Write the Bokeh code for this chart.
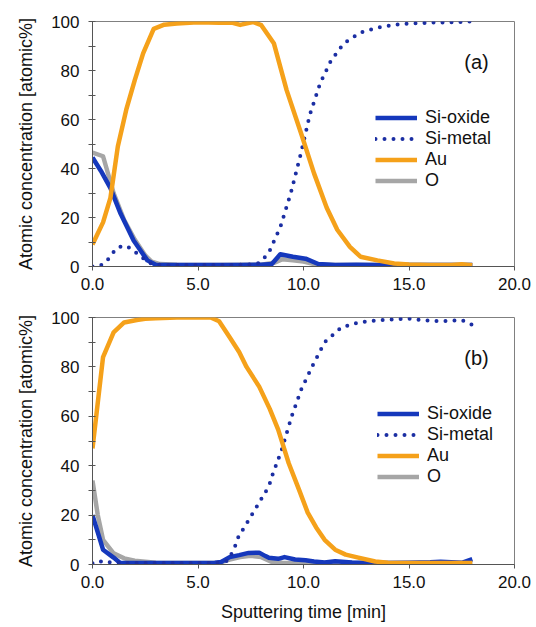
from bokeh.plotting import figure
from bokeh.layouts import column
from bokeh.models import Range1d, FixedTicker, Legend, LegendItem, Label
from bokeh.embed import file_html
from bokeh.resources import INLINE

# ---------------- data: panel (a) ----------------
a_au_t = [0, 0.5, 0.85, 1.2, 1.6, 2.0, 2.4, 2.9, 3.4, 4.0, 5.0, 6.0, 6.6, 7.0, 7.6, 8.0, 8.6, 9.2, 9.9, 10.5, 11.1, 11.6, 12.2, 12.7, 13.5, 14.3, 15.0, 16.0, 17.0, 17.5, 18.0]
a_au_v = [9, 18, 28, 49, 64, 76, 87, 97, 98.7, 99.2, 99.7, 99.5, 99.6, 98.6, 99.8, 98.5, 91, 72, 54, 38, 24, 15, 8, 4, 2.5, 1.2, 0.8, 0.6, 0.6, 0.9, 0.5]

a_sim_t = [0, 0.4, 0.7, 0.95, 1.25, 1.6, 1.95, 2.3, 2.7, 3.0, 4, 5, 6, 7, 7.8, 8.1, 8.4, 8.9, 9.4, 9.9, 10.3, 10.8, 11.3, 11.9, 12.7, 13.5, 14.6, 15.9, 17, 18]
a_sim_v = [0, 0.5, 2.5, 5.5, 8, 8.5, 6.5, 4, 1.5, 0.7, 0.6, 0.6, 0.6, 0.7, 1, 3, 6.5, 16, 30, 47, 62, 75, 84, 91, 95.5, 97.5, 99, 99.5, 99.7, 100]

a_sio_t = [0, 0.4, 0.85, 1.33, 1.95, 2.6, 3.0, 4, 5, 6, 7, 8, 8.5, 8.9, 9.5, 10.1, 10.7, 11.5, 12.5, 13.5, 14.5, 15.5, 16.5, 17.5, 18]
a_sio_v = [44.5, 39, 32, 21.6, 10.6, 2.5, 0.7, 0.6, 0.6, 0.6, 0.6, 0.7, 1, 5, 4, 3.2, 1, 0.6, 0.7, 0.6, 0.6, 0.6, 0.6, 0.6, 0.6]

a_o_t = [0, 0.5, 1.0, 1.5, 2.0, 2.5, 2.8, 3.2, 4, 5, 6, 7, 8, 8.6, 9.0, 9.5, 10.0, 10.6, 11.5, 13, 15, 17, 18]
a_o_v = [46.5, 45, 30, 19, 11, 4.5, 2, 1, 0.7, 0.6, 0.6, 0.7, 0.7, 1.5, 3, 2.5, 2, 0.8, 0.6, 0.6, 0.6, 0.6, 0.6]

# ---------------- data: panel (b) ----------------
b_au_t = [0, 0.5, 1.0, 1.5, 2.1, 2.5, 3, 4, 5, 5.6, 6.0, 6.5, 6.95, 7.3, 7.9, 8.4, 8.8, 9.3, 9.8, 10.2, 10.6, 11.0, 11.5, 12.0, 12.6, 13.4, 14, 15, 16, 17, 18]
b_au_v = [47, 84, 94, 98, 99, 99.5, 99.7, 100, 100, 100, 98.5, 92, 86, 80, 72, 63, 54.6, 41, 30, 21, 15, 10, 6, 4, 2.8, 1.2, 0.7, 0.6, 0.6, 0.6, 0.6]

b_sim_t = [0, 0.3, 0.6, 0.9, 1.3, 2, 3, 4, 5, 6, 6.4, 6.7, 6.95, 7.2, 7.4, 7.65, 7.9, 8.1, 8.36, 8.5, 8.97, 9.44, 9.9, 10.4, 11.0, 11.8, 12.6, 13.4, 14.9, 15.5, 16.5, 17.5, 18]
b_sim_v = [0.5, 1.5, 0.7, 1, 0.6, 0.6, 0.6, 0.6, 0.6, 0.7, 1.5, 6, 12, 15, 18, 21.5, 25, 28, 31.6, 35.6, 46.5, 60, 71, 80, 90, 96, 98, 98.8, 99.6, 99, 98.5, 99, 97]

b_sio_t = [0, 0.5, 1.0, 1.3, 2, 3, 4, 5, 5.8, 6.1, 6.5, 6.95, 7.4, 7.9, 8.2, 8.36, 8.8, 9.1, 9.6, 10.1, 10.5, 11.0, 11.5, 12.3, 13, 14, 15, 16, 16.5, 17, 17.5, 18]
b_sio_v = [20, 6, 2.8, 0.7, 0.6, 0.6, 0.6, 0.6, 0.7, 1, 3, 3.8, 4.7, 4.8, 3.4, 2.7, 2.3, 3, 2, 1.7, 1.2, 0.8, 1.3, 0.8, 0.7, 0.6, 0.7, 0.9, 1.1, 0.9, 0.7, 2.2]

b_o_t = [0, 0.25, 0.5, 1.0, 1.5, 2, 3, 4, 5, 6, 6.5, 7, 7.5, 8, 8.5, 9, 10, 12, 14, 16, 18]
b_o_v = [34, 20, 10, 4.5, 2.5, 1.5, 0.7, 0.6, 0.6, 0.7, 2, 3, 3.5, 3, 1, 0.7, 0.6, 0.6, 0.6, 0.6, 0.6]

series_names = ["Si-oxide", "Si-metal", "Au", "O"]
x_ticks = [0, 5, 10, 15, 20]
x_tick_labels = ["0.0", "5.0", "10.0", "15.0", "20.0"]
y_ticks = [0, 20, 40, 60, 80, 100]
y_minor = [10, 30, 50, 70, 90]
panel_labels = ["(a)", "(b)"]

C_SIO = "#1538bc"
C_SIM = "#1b2ea3"
C_AU = "#f5a11a"
C_O = "#a6a6a6"
FONT = "Liberation Sans"
LW = 4.5


def make_panel(data, tag, width, height, mb, show_xlabel, legend_loc):
    p = figure(width=width, height=height, output_backend="svg", toolbar_location=None,
               x_range=Range1d(0, 20), y_range=Range1d(0, 100),
               min_border_left=mb[0], min_border_right=mb[1],
               min_border_top=mb[2], min_border_bottom=mb[3])
    p.grid.visible = False
    p.outline_line_color = "#808080"
    p.outline_line_width = 1
    p.background_fill_color = "white"
    p.border_fill_color = "white"

    (sio_t, sio_v), (sim_t, sim_v), (au_t, au_v), (o_t, o_v) = data
    r_o = p.line(o_t, o_v, line_color=C_O, line_width=LW, line_join="round")
    r_sio = p.line(sio_t, sio_v, line_color=C_SIO, line_width=LW, line_join="round")
    r_sim = p.line(sim_t, sim_v, line_color=C_SIM, line_width=4, line_dash="0 9",
                   line_cap="round")
    r_au = p.line(au_t, au_v, line_color=C_AU, line_width=LW, line_join="round")

    legend = Legend(items=[LegendItem(label=series_names[0], renderers=[r_sio]),
                           LegendItem(label=series_names[1], renderers=[r_sim]),
                           LegendItem(label=series_names[2], renderers=[r_au]),
                           LegendItem(label=series_names[3], renderers=[r_o])],
                    location=legend_loc, padding=0, spacing=0, margin=0,
                    border_line_alpha=0, background_fill_alpha=0,
                    glyph_width=42, glyph_height=17, label_height=17,
                    label_standoff=8, label_text_font=FONT,
                    label_text_font_size="18px", label_text_line_height=1.0,
                    label_text_color="#111111")
    p.add_layout(legend, "center")

    p.add_layout(Label(x=18.2, y=83.5, text=tag, text_font=FONT, text_font_size="20px",
                       text_align="center", text_baseline="middle", text_color="#111111"))

    for ax in (p.xaxis[0], p.yaxis[0]):
        ax.axis_line_color = "#555555"
        ax.major_tick_line_color = "#555555"
        ax.minor_tick_line_color = "#555555"
        ax.major_label_text_font = FONT
        ax.major_label_text_font_size = "17px"
        ax.major_label_text_color = "#111111"
        ax.axis_label_text_font = FONT
        ax.axis_label_text_font_size = "18px"
        ax.axis_label_text_font_style = "normal"
        ax.axis_label_text_color = "#111111"
        ax.major_tick_in = 3
        ax.major_tick_out = 4

    p.xaxis.ticker = FixedTicker(ticks=x_ticks)
    p.xaxis.major_label_overrides = dict(zip(x_ticks, x_tick_labels))
    p.xaxis.minor_tick_line_color = None
    p.xaxis.major_tick_in = 0
    p.xaxis.major_label_standoff = 7
    p.yaxis.ticker = FixedTicker(ticks=y_ticks, minor_ticks=y_minor)
    p.yaxis.minor_tick_in = 3
    p.yaxis.minor_tick_out = 4
    p.yaxis.major_label_standoff = 9
    p.yaxis.axis_label = "Atomic concentration [atomic%]"
    p.yaxis.axis_label_standoff = 12
    if show_xlabel:
        p.xaxis.axis_label = "Sputtering time [min]"
        p.xaxis.axis_label_standoff = 11
    return p


pa = make_panel([(a_sio_t, a_sio_v), (a_sim_t, a_sim_v), (a_au_t, a_au_v), (a_o_t, a_o_v)],
                panel_labels[0], 536, 296, (92, 22, 21, 30), False, (283, 75))
pb = make_panel([(b_sio_t, b_sio_v), (b_sim_t, b_sim_v), (b_au_t, b_au_v), (b_o_t, b_o_v)],
                panel_labels[1], 536, 331, (92, 18, 21, 63), True, (285, 77))

layout = column(pa, pb, spacing=0)
open("out.html", "w").write(file_html(layout, INLINE))
